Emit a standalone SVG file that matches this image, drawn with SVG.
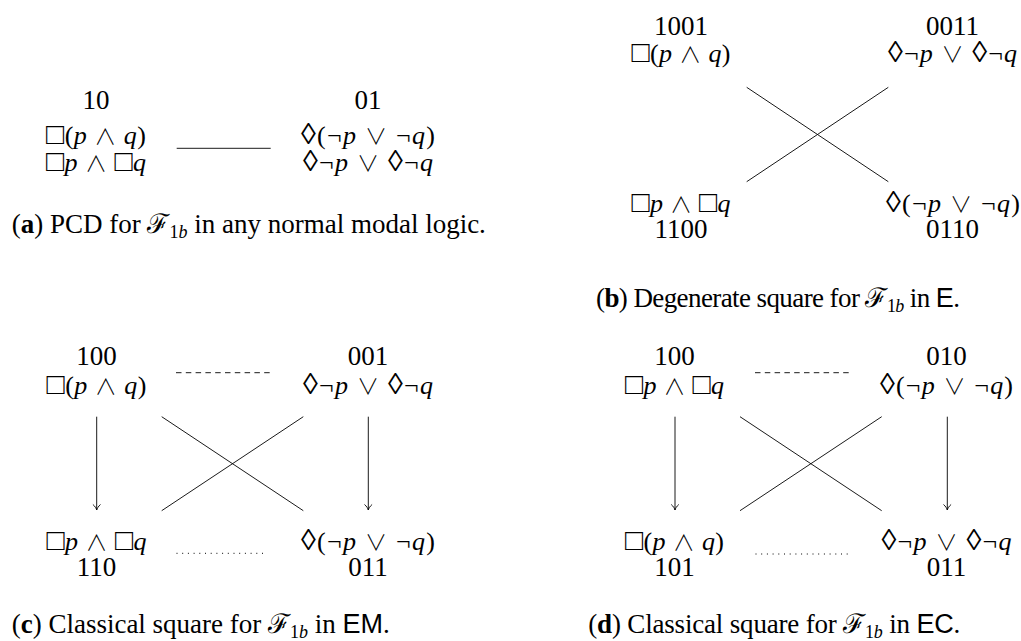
<svg xmlns="http://www.w3.org/2000/svg" width="1021" height="641" viewBox="0 0 1021 641">
<style>
text{font-family:"Liberation Serif","DejaVu Serif",serif;fill:#000;}
.n{font-size:27px;text-anchor:middle;}
.f{font-size:26px;text-anchor:middle;}
.cap{font-size:27px;}
.i{font-style:italic;}
.s{font-family:"DejaVu Sans",sans-serif;font-weight:200;font-size:30px;}
.d{font-family:"DejaVu Sans",sans-serif;font-weight:200;font-size:30px;}
.o{font-family:"Noto Sans CJK JP","DejaVu Sans",sans-serif;font-weight:300;font-size:22px;}
.sf{font-family:"Liberation Sans","DejaVu Sans",sans-serif;}
.ln{stroke:#000;stroke-width:0.9;fill:none;}
.dash{stroke-dasharray:5.5 4.3;}
.dot{stroke-dasharray:1 4.7;stroke-width:1;}
</style>
<defs>
<marker id="arr" markerUnits="userSpaceOnUse" markerWidth="12" markerHeight="12" viewBox="-7 -6 8 12" refX="0" refY="0" orient="auto">
<path d="M-5.5,-3.8 C-3.8,-1.6 -1.2,-0.3 0,0 C-1.2,0.3 -3.8,1.6 -5.5,3.8" fill="none" stroke="#000" stroke-width="0.9"/>
</marker>
</defs>
<rect width="1021" height="641" fill="#fff"/>
<g id="connectors">
<line class="ln" x1="176.7" y1="148.3" x2="270.7" y2="148.3"/>
<line class="ln" x1="746.7" y1="87.3" x2="888.3" y2="181.7"/>
<line class="ln" x1="888.3" y1="87.3" x2="746.7" y2="181.7"/>
<line class="ln dash" x1="176" y1="372.7" x2="273" y2="372.7"/>
<line class="ln dot" x1="176.5" y1="553.3" x2="267" y2="553.3"/>
<line class="ln" x1="96.7" y1="416.7" x2="96.7" y2="510" marker-end="url(#arr)"/>
<line class="ln" x1="368.3" y1="416.7" x2="368.3" y2="510" marker-end="url(#arr)"/>
<line class="ln" x1="161.7" y1="416.7" x2="303.3" y2="510.7"/>
<line class="ln" x1="303.3" y1="416.7" x2="161.7" y2="510.7"/>
<line class="ln dash" x1="755" y1="372.7" x2="850" y2="372.7"/>
<line class="ln dot" x1="755.5" y1="554" x2="851.7" y2="554"/>
<line class="ln" x1="675" y1="416.7" x2="675" y2="510" marker-end="url(#arr)"/>
<line class="ln" x1="947.3" y1="416.7" x2="947.3" y2="510" marker-end="url(#arr)"/>
<line class="ln" x1="740" y1="416.7" x2="881.7" y2="510.7"/>
<line class="ln" x1="881.7" y1="416.7" x2="740" y2="510.7"/>
</g>
<g id="a-left">
<text class="n" x="96" y="109">10</text>
<text class="f" x="96" y="144" textLength="100" lengthAdjust="spacing"><tspan class="s">□</tspan>(<tspan class="i">p</tspan> <tspan class="o">∧</tspan> <tspan class="i">q</tspan>)</text>
<text class="f" x="96" y="171" textLength="100" lengthAdjust="spacing"><tspan class="s">□</tspan><tspan class="i">p</tspan> <tspan class="o">∧</tspan> <tspan class="s">□</tspan><tspan class="i">q</tspan></text>
</g>
<g id="a-right">
<text class="n" x="368" y="109">01</text>
<text class="f" x="368" y="144" textLength="134" lengthAdjust="spacing"><tspan class="d">◊</tspan>(¬<tspan class="i">p</tspan> <tspan class="o">∨</tspan> ¬<tspan class="i">q</tspan>)</text>
<text class="f" x="368" y="171" textLength="130" lengthAdjust="spacing"><tspan class="d">◊</tspan>¬<tspan class="i">p</tspan> <tspan class="o">∨</tspan> <tspan class="d">◊</tspan>¬<tspan class="i">q</tspan></text>
</g>
<text class="cap" x="11.7" y="233">(<tspan font-weight="bold">a</tspan>) PCD for ℱ<tspan font-size="18" dy="5">1</tspan><tspan class="i" font-size="18">b</tspan><tspan dy="-5"> in any normal modal logic.</tspan></text>
<g id="b-tl">
<text class="n" x="681" y="35">1001</text>
<text class="f" x="681" y="62" textLength="99" lengthAdjust="spacing"><tspan class="s">□</tspan>(<tspan class="i">p</tspan> <tspan class="o">∧</tspan> <tspan class="i">q</tspan>)</text>
</g>
<g id="b-tr">
<text class="n" x="952.5" y="35">0011</text>
<text class="f" x="952.5" y="62" textLength="129" lengthAdjust="spacing"><tspan class="d">◊</tspan>¬<tspan class="i">p</tspan> <tspan class="o">∨</tspan> <tspan class="d">◊</tspan>¬<tspan class="i">q</tspan></text>
</g>
<g id="b-bl">
<text class="f" x="681" y="211.5" textLength="99" lengthAdjust="spacing"><tspan class="s">□</tspan><tspan class="i">p</tspan> <tspan class="o">∧</tspan> <tspan class="s">□</tspan><tspan class="i">q</tspan></text>
<text class="n" x="681" y="238">1100</text>
</g>
<g id="b-br">
<text class="f" x="953" y="211.5" textLength="134" lengthAdjust="spacing"><tspan class="d">◊</tspan>(¬<tspan class="i">p</tspan> <tspan class="o">∨</tspan> ¬<tspan class="i">q</tspan>)</text>
<text class="n" x="952.5" y="238">0110</text>
</g>
<text class="cap" x="596" y="307" textLength="364" lengthAdjust="spacing">(<tspan font-weight="bold">b</tspan>) Degenerate square for ℱ<tspan font-size="18" dy="5">1</tspan><tspan class="i" font-size="18">b</tspan><tspan dy="-5"> in </tspan><tspan class="sf">E</tspan>.</text>
<g id="c-tl">
<text class="n" x="96.5" y="365">100</text>
<text class="f" x="96.5" y="394" textLength="100" lengthAdjust="spacing"><tspan class="s">□</tspan>(<tspan class="i">p</tspan> <tspan class="o">∧</tspan> <tspan class="i">q</tspan>)</text>
</g>
<g id="c-tr">
<text class="n" x="368" y="365">001</text>
<text class="f" x="368" y="394" textLength="130" lengthAdjust="spacing"><tspan class="d">◊</tspan>¬<tspan class="i">p</tspan> <tspan class="o">∨</tspan> <tspan class="d">◊</tspan>¬<tspan class="i">q</tspan></text>
</g>
<g id="c-bl">
<text class="f" x="96.5" y="550" textLength="100" lengthAdjust="spacing"><tspan class="s">□</tspan><tspan class="i">p</tspan> <tspan class="o">∧</tspan> <tspan class="s">□</tspan><tspan class="i">q</tspan></text>
<text class="n" x="96.5" y="576">110</text>
</g>
<g id="c-br">
<text class="f" x="368" y="550" textLength="134" lengthAdjust="spacing"><tspan class="d">◊</tspan>(¬<tspan class="i">p</tspan> <tspan class="o">∨</tspan> ¬<tspan class="i">q</tspan>)</text>
<text class="n" x="368" y="576">011</text>
</g>
<text class="cap" x="11.7" y="633" textLength="378" lengthAdjust="spacing">(<tspan font-weight="bold">c</tspan>) Classical square for ℱ<tspan font-size="18" dy="5">1</tspan><tspan class="i" font-size="18">b</tspan><tspan dy="-5"> in </tspan><tspan class="sf">EM</tspan>.</text>
<g id="d-tl">
<text class="n" x="674.5" y="365">100</text>
<text class="f" x="674.5" y="394" textLength="99" lengthAdjust="spacing"><tspan class="s">□</tspan><tspan class="i">p</tspan> <tspan class="o">∧</tspan> <tspan class="s">□</tspan><tspan class="i">q</tspan></text>
</g>
<g id="d-tr">
<text class="n" x="946.5" y="365">010</text>
<text class="f" x="946.5" y="394" textLength="133" lengthAdjust="spacing"><tspan class="d">◊</tspan>(¬<tspan class="i">p</tspan> <tspan class="o">∨</tspan> ¬<tspan class="i">q</tspan>)</text>
</g>
<g id="d-bl">
<text class="f" x="674.5" y="550" textLength="99" lengthAdjust="spacing"><tspan class="s">□</tspan>(<tspan class="i">p</tspan> <tspan class="o">∧</tspan> <tspan class="i">q</tspan>)</text>
<text class="n" x="674.5" y="576">101</text>
</g>
<g id="d-br">
<text class="f" x="946.5" y="550" textLength="130" lengthAdjust="spacing"><tspan class="d">◊</tspan>¬<tspan class="i">p</tspan> <tspan class="o">∨</tspan> <tspan class="d">◊</tspan>¬<tspan class="i">q</tspan></text>
<text class="n" x="946.5" y="576">011</text>
</g>
<text class="cap" x="588.3" y="633" textLength="372" lengthAdjust="spacing">(<tspan font-weight="bold">d</tspan>) Classical square for ℱ<tspan font-size="18" dy="5">1</tspan><tspan class="i" font-size="18">b</tspan><tspan dy="-5"> in </tspan><tspan class="sf">EC</tspan>.</text>
</svg>
